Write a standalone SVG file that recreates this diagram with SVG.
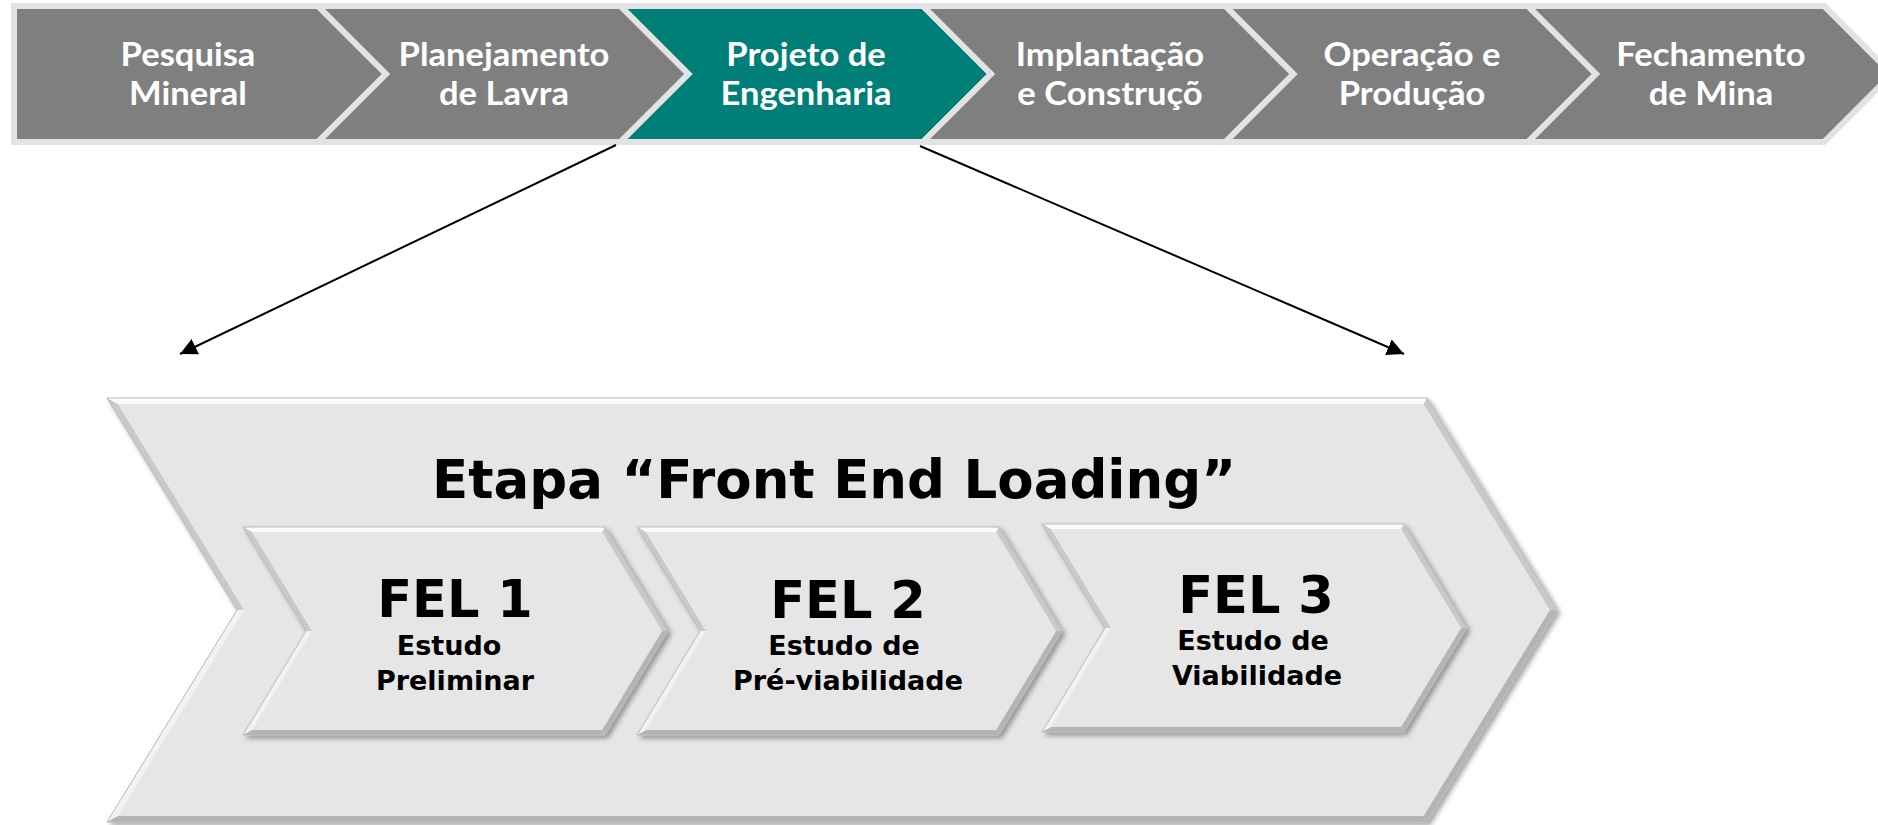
<svg xmlns="http://www.w3.org/2000/svg" xmlns:xlink="http://www.w3.org/1999/xlink" width="1878" height="825" viewBox="0 0 1878 825">
  <style>
    .step { fill: #7f7f7f; stroke: #e3e3e3; stroke-width: 6; stroke-linejoin: miter; }
    .step.active { fill: #007f78; }
    .stepText { font-family: Lato, "Open Sans", "Liberation Sans", sans-serif; font-weight: 700; font-size: 32px; fill: #ffffff; text-anchor: middle; }
    .face { fill: #e6e6e6; }
    .hl { fill: #fbfbfb; }
    .lt { fill: #f2f2f2; }
    .md { fill: #c9c9c9; }
    .dk { fill: #b4b4b4; }
    .outline { fill: none; stroke: #b9b9b9; stroke-width: 1; }
    .title { font-family: "DejaVu Sans", Verdana, sans-serif; font-weight: 700; font-size: 53px; fill: #000000; text-anchor: middle; }
    .fel { font-family: "DejaVu Sans", Verdana, sans-serif; font-weight: 700; font-size: 51px; fill: #000000; text-anchor: middle; }
    .sub { font-family: "DejaVu Sans", Verdana, sans-serif; font-weight: 700; font-size: 27px; fill: #000000; text-anchor: middle; }
    .conn { fill: none; stroke: #000000; stroke-width: 2; }
  </style>
  <defs>
    <filter id="shadow" x="-5%" y="-5%" width="110%" height="115%">
      <feDropShadow dx="3" dy="3" stdDeviation="2.5" flood-color="#000000" flood-opacity="0.35"/>
    </filter>
    <marker id="arrow" viewBox="0 0 10 10" refX="10" refY="5" markerWidth="17" markerHeight="17" markerUnits="userSpaceOnUse" orient="auto">
      <path d="M0,0 L10,5 L0,10 z" fill="#000000"/>
    </marker>
    <!-- FEL chevron: W=362, H=208, D=63, bevel 5 -->
    <g id="felShape">
      <polygon class="face" points="0,0 362,0 425,104 362,208 0,208 63,104"/>
      <polygon class="hl" points="0,0 362,0 359.18,5 8.88,5"/>
      <polygon class="md" points="362,0 425,104 419.15,104 359.18,5"/>
      <polygon class="dk" points="425,104 362,208 359.18,203 419.15,104"/>
      <polygon class="dk" points="362,208 0,208 8.88,203 359.18,203"/>
      <polygon class="lt" points="0,208 63,104 68.85,104 8.88,203"/>
      <polygon class="md" points="63,104 0,0 8.88,5 68.85,104"/>
      <polygon class="outline" points="0,0 362,0 425,104 362,208 0,208 63,104"/>
    </g>
  </defs>

  <rect x="0" y="0" width="1878" height="825" fill="#ffffff"/>

  <!-- Top process bar -->
  <g id="step-pesquisa">
    <polygon class="step" points="14,6 318,6 386,74 318,142 14,142"/>
    <text class="stepText" transform="translate(188,66) scale(1.08,1)">Pesquisa</text>
    <text class="stepText" transform="translate(188,105) scale(1.08,1)">Mineral</text>
  </g>
  <g id="step-planejamento">
    <polygon class="step" points="318,6 620.5,6 688.5,74 620.5,142 318,142 386,74"/>
    <text class="stepText" transform="translate(504,66) scale(1.08,1)">Planejamento</text>
    <text class="stepText" transform="translate(504,105) scale(1.08,1)">de Lavra</text>
  </g>
  <g id="step-projeto">
    <polygon class="step active" points="620.5,6 923,6 991,74 923,142 620.5,142 688.5,74"/>
    <text class="stepText" transform="translate(806,66) scale(1.08,1)">Projeto de</text>
    <text class="stepText" transform="translate(806,105) scale(1.08,1)">Engenharia</text>
  </g>
  <g id="step-implantacao">
    <polygon class="step" points="923,6 1225.5,6 1293.5,74 1225.5,142 923,142 991,74"/>
    <text class="stepText" transform="translate(1110,66) scale(1.08,1)">Implantação</text>
    <text class="stepText" transform="translate(1110,105) scale(1.08,1)">e Construçõ</text>
  </g>
  <g id="step-operacao">
    <polygon class="step" points="1225.5,6 1528,6 1596,74 1528,142 1225.5,142 1293.5,74"/>
    <text class="stepText" transform="translate(1412,66) scale(1.08,1)">Operação e</text>
    <text class="stepText" transform="translate(1412,105) scale(1.08,1)">Produção</text>
  </g>
  <g id="step-fechamento">
    <polygon class="step" points="1528,6 1824,6 1892,74 1824,142 1528,142 1596,74"/>
    <text class="stepText" transform="translate(1711,66) scale(1.08,1)">Fechamento</text>
    <text class="stepText" transform="translate(1711,105) scale(1.08,1)">de Mina</text>
  </g>

  <!-- Connectors -->
  <g id="connectors">
    <line class="conn" x1="616" y1="145" x2="180" y2="354" marker-end="url(#arrow)"/>
    <line class="conn" x1="920" y1="146" x2="1404" y2="354" marker-end="url(#arrow)"/>
  </g>

  <!-- Front End Loading big chevron -->
  <g id="fel-stage">
    <g transform="translate(107,398)" filter="url(#shadow)">
      <polygon class="face" points="0,0 1320,0 1450,212 1320,424 0,424 130,212"/>
      <polygon class="hl" points="0,0 1320,0 1316.64,6 10.72,6"/>
      <polygon class="md" points="1320,0 1450,212 1442.96,212 1316.64,6"/>
      <polygon class="dk" points="1450,212 1320,424 1316.64,418 1442.96,212"/>
      <polygon class="dk" points="1320,424 0,424 10.72,418 1316.64,418"/>
      <polygon class="lt" points="0,424 130,212 137.04,212 10.72,418"/>
      <polygon class="md" points="130,212 0,0 10.72,6 137.04,212"/>
      <polygon class="outline" points="0,0 1320,0 1450,212 1320,424 0,424 130,212"/>
    </g>
    <text class="title" x="834" y="498">Etapa “Front End Loading”</text>
  </g>

  <g id="fel1">
    <use xlink:href="#felShape" href="#felShape" x="243" y="527" filter="url(#shadow)"/>
    <text class="fel" x="455" y="617">FEL 1</text>
    <text class="sub" x="449" y="655">Estudo</text>
    <text class="sub" x="455" y="690">Preliminar</text>
  </g>
  <g id="fel2">
    <use xlink:href="#felShape" href="#felShape" x="637" y="527" filter="url(#shadow)"/>
    <text class="fel" x="848" y="618">FEL 2</text>
    <text class="sub" x="844" y="655">Estudo de</text>
    <text class="sub" x="848" y="690">Pré-viabilidade</text>
  </g>
  <g id="fel3">
    <use xlink:href="#felShape" href="#felShape" x="1042" y="524" filter="url(#shadow)"/>
    <text class="fel" x="1256" y="613">FEL 3</text>
    <text class="sub" x="1253" y="650">Estudo de</text>
    <text class="sub" x="1257" y="685">Viabilidade</text>
  </g>
</svg>
